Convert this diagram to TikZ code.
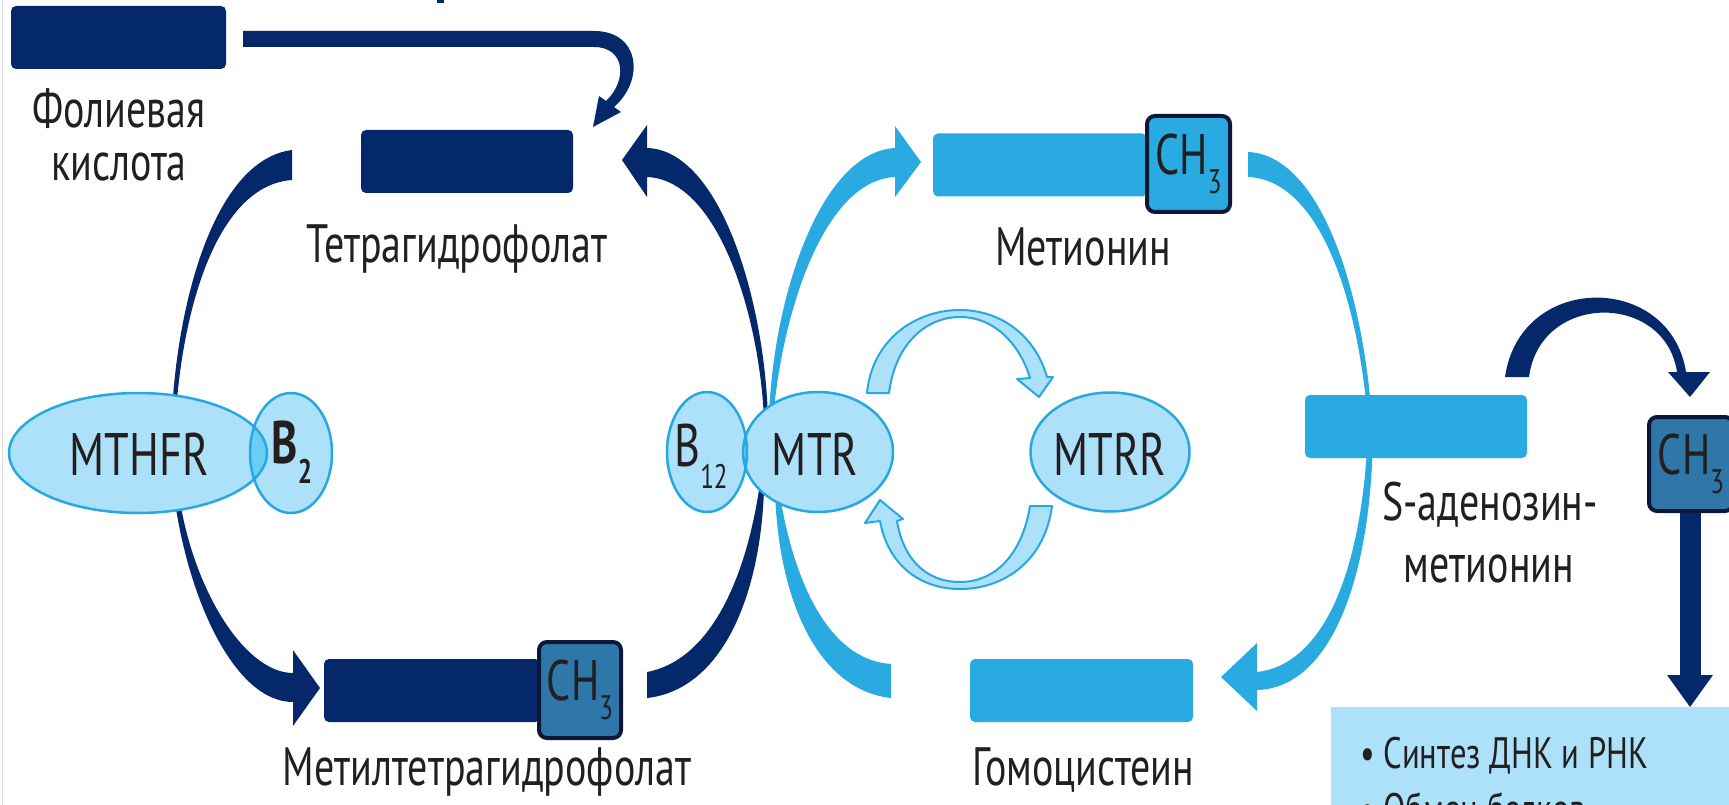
\documentclass[tikz,border=0pt]{standalone}
\usepackage{fontspec}
\setmainfont{PT Sans}[FakeStretch=0.74]
\definecolor{navy}{HTML}{04286A}
\definecolor{sky}{HTML}{29ABE2}
\definecolor{pale}{HTML}{ADE1F9}
\definecolor{rim}{HTML}{27A8E0}
\definecolor{lap}{HTML}{6BCDF3}
\definecolor{methyl}{HTML}{2F77A8}
\definecolor{ink}{HTML}{231F20}
\definecolor{edgec}{HTML}{0B1838}
\newcommand{\lblfont}{\fontsize{54}{60}\selectfont}
\newcommand{\enzfont}{\fontsize{60}{66}\selectfont}
\newcommand{\chfont}{\fontsize{57}{60}\selectfont}
\newcommand{\subfont}{\fontsize{34}{36}\selectfont}
\newcommand{\boxfont}{\fontsize{44}{50}\selectfont}
\newcommand{\chgroup}{CH\raisebox{-19pt}{\subfont 3}}
\tikzset{
  bar/.style={rectangle, rounded corners=5pt, minimum height=63pt, inner sep=0pt, outer sep=0pt},
  darkbar/.style={bar, fill=navy},
  skybar/.style={bar, fill=sky},
  methylbox/.style={rectangle, rounded corners=8pt, draw=edgec, line width=4pt, inner sep=0pt, outer sep=0pt, text=ink, font=\chfont},
  lbl/.style={text=ink, font=\lblfont, inner sep=0pt, anchor=base},
  enzlbl/.style={text=ink, font=\enzfont, inner sep=0pt, anchor=base},
  enz/.style={fill=pale},
  enzrim/.style={draw=rim, line width=2.5pt},
  cyc/.style={fill=pale, draw=rim, line width=2pt, line join=round},
}
\begin{document}
\begin{tikzpicture}[x=1pt,y=-1pt,line join=round]
\useasboundingbox (0,0) rectangle (1729,805);
\fill[white] (0,0) rectangle (1729,805);
\draw[gray!25, line width=1.5pt] (2.5,0) -- (2.5,805);
\fill[navy] (437,0) rectangle (444,3);

% ---------- dark folate loop ----------
% folic acid -> THF
\fill[navy] (243,31) -- (594,31) .. controls (640,31) and (645,80) .. (614,107)
  -- (621,112) -- (593,127) -- (599,96) -- (606,101)
  .. controls (628,80) and (625,47) .. (594,47) -- (243,47) -- cycle;
% THF -> MTHFR (top left)
\fill[navy] (292,150) .. controls (215,160) and (178,300) .. (172,412)
  -- (176,412) .. controls (184,300) and (220,185) .. (292,180) -- cycle;
% MTHFR -> methyl-THF (bottom left)
\fill[navy] (174,495) .. controls (188,600) and (235,702) .. (293,702)
  -- (293,726) -- (320,688) -- (293,650) -- (293,673)
  .. controls (245,673) and (193,590) .. (179,495) -- cycle;
% methyl-THF -> MTR (bottom right)
\fill[navy] (764,490) .. controls (760,600) and (720,690) .. (647,698)
  -- (647,672) .. controls (710,660) and (745,580) .. (759,490) -- cycle;
% MTR -> THF (top right)
\fill[navy] (647,148) .. controls (720,150) and (765,300) .. (768,420)
  -- (764,420) .. controls (760,320) and (720,180) .. (647,177)
  -- (647,197) -- (622,160) -- (647,125) -- cycle;

% ---------- light methionine loop ----------
\fill[sky] (895,148) .. controls (820,152) and (772,300) .. (769,420)
  -- (773,420) .. controls (782,310) and (825,180) .. (895,177)
  -- (895,197) -- (921,162) -- (895,126) -- cycle;
\fill[sky] (775,490) .. controls (778,600) and (818,690) .. (891,698)
  -- (891,664) .. controls (828,660) and (793,580) .. (779,490) -- cycle;
\fill[sky] (1248,152) .. controls (1320,155) and (1365,290) .. (1373,435)
  -- (1369,435) .. controls (1360,300) and (1320,180) .. (1248,177) -- cycle;
\fill[sky] (1373,430) .. controls (1372,580) and (1330,688) .. (1257,690)
  -- (1257,711) -- (1221,677) -- (1257,643) -- (1257,672)
  .. controls (1320,665) and (1362,580) .. (1368,430) -- cycle;

% ---------- SAM -> CH3 -> box ----------
\fill[navy] (1505,377) .. controls (1520,272) and (1670,272) .. (1686,372)
  -- (1710,372) -- (1690,397) -- (1668,372) -- (1677,372)
  .. controls (1665,292) and (1540,292) .. (1529,377) -- cycle;
\fill[navy] (1680,510) rectangle (1701,676);
\fill[navy] (1667,675) -- (1713,675) -- (1690,707) -- cycle;
\fill[pale] (1331,707) rectangle (1740,820);

% ---------- enzymes ----------
\fill[enz] (138,453) ellipse [x radius=129, y radius=60];
\fill[enz] (291,453) ellipse [x radius=41, y radius=60];
\begin{scope}
  \clip (138,453) ellipse [x radius=129, y radius=60];
  \fill[lap] (291,453) ellipse [x radius=41, y radius=60];
\end{scope}
\draw[enzrim] (138,453) ellipse [x radius=129, y radius=60];
\draw[enzrim] (291,453) ellipse [x radius=41, y radius=60];

\fill[enz] (707,452) ellipse [x radius=40, y radius=60];
\fill[enz] (818,452) ellipse [x radius=75, y radius=60];
\begin{scope}
  \clip (818,452) ellipse [x radius=75, y radius=60];
  \fill[lap] (707,452) ellipse [x radius=40, y radius=60];
\end{scope}
\draw[enzrim] (707,452) ellipse [x radius=40, y radius=60];
\draw[enzrim] (818,452) ellipse [x radius=75, y radius=60];

\fill[enz] (1110,452) ellipse [x radius=79.5, y radius=59.5];
\draw[enzrim] (1110,452) ellipse [x radius=79.5, y radius=59.5];

% MTR <-> MTRR cycle
\filldraw[cyc] (889,393) .. controls (895,345) and (925,317) .. (960,317)
  .. controls (995,317) and (1020,345) .. (1030,378) -- (1017,379) -- (1039,397)
  -- (1053,377) -- (1047,377) .. controls (1035,335) and (1000,310) .. (960,310)
  .. controls (915,310) and (872,340) .. (867,393) -- cycle;
\filldraw[cyc] (1030,506) .. controls (1022,555) and (995,582) .. (960,582)
  .. controls (925,582) and (903,558) .. (897,521) -- (903,519) -- (880,500)
  -- (865,523) -- (880,521) .. controls (888,565) and (920,589) .. (960,589)
  .. controls (1005,589) and (1045,560) .. (1052,506) -- cycle;

% ---------- bars ----------
\node[darkbar, minimum width=215pt] (folic) at (118.5,37.5) {};
\node[darkbar, minimum width=212pt] (thf) at (467,161.5) {};
\node[darkbar, minimum width=216pt] (mthf) at (432,690.5) {};
\node[skybar, minimum width=214pt] (met) at (1040,165) {};
\node[skybar, minimum width=223pt] (hcy) at (1081.5,690.5) {};
\node[skybar, minimum width=222pt] (sam) at (1416,426.5) {};

\node[methylbox, fill=methyl, minimum width=82pt, minimum height=96pt] (ch3a) at (580,690) {\chgroup};
\node[methylbox, fill=sky, minimum width=83pt, minimum height=96pt] (ch3b) at (1188.5,164) {\chgroup};
\node[methylbox, fill=methyl, minimum width=84pt, minimum height=94pt] (ch3c) at (1691,464) {\chgroup};

% ---------- labels ----------
\node[lbl] (tfolic1) at (119,128) {Фолиевая};
\node[lbl] (tfolic2) at (119,181) {кислота};
\node[lbl] (tthf) at (457,262) {Тетрагидрофолат};
\node[lbl] (tmthf) at (487,785) {Метилтетрагидрофолат};
\node[lbl] (tmet) at (1083,265) {Метионин};
\node[lbl] (thcy) at (1083,785) {Гомоцистеин};
\node[lbl] (tsam1) at (1490,520) {S-аденозин-};
\node[lbl] (tsam2) at (1489,582) {метионин};

\node[enzlbl] (tmthfr) at (139,475) {MTHFR};
\node[enzlbl] (tmtr) at (815,475) {MTR};
\node[enzlbl] (tmtrr) at (1110,475) {MTRR};
\node[enzlbl, font=\enzfont\bfseries] (tb2) at (292,463) {B\raisebox{-20pt}{\subfont 2}};
\node[enzlbl] (tb12) at (701,466) {B\raisebox{-22pt}{\subfont 12}};

\node[text=ink, font=\boxfont, inner sep=0pt, anchor=base west] (syn1) at (1360,768) {• Синтез ДНК и РНК};
\begin{scope}
  \clip (0,0) rectangle (1729,805);
  \node[text=ink, font=\boxfont, inner sep=0pt, anchor=base west] (syn2) at (1360,824) {• Обмен белков};
\end{scope}
\end{tikzpicture}
\end{document}
